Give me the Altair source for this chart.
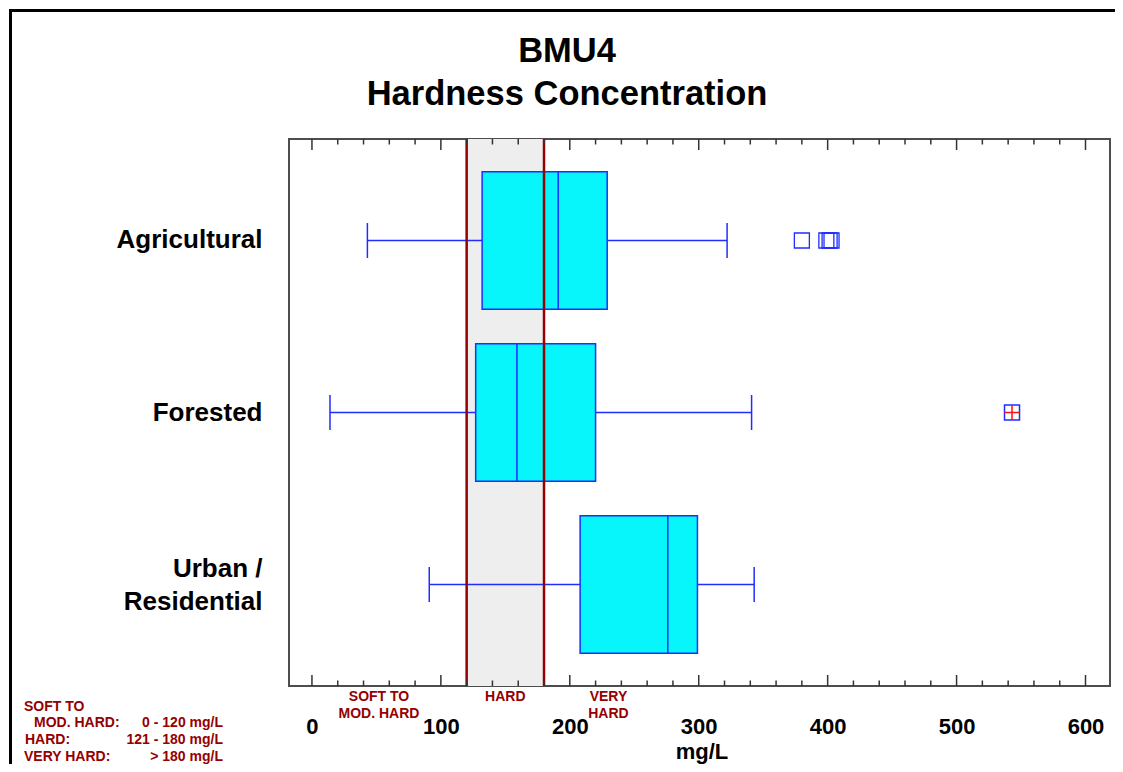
import altair as alt
import pandas as pd

# ---------------- data ----------------
categories = ["Agricultural", "Forested", "Urban / Residential"]
whisker_low = [43, 14, 91]
q1 = [132, 127, 208]
median = [191, 159, 276]
q3 = [229, 220, 299]
whisker_high = [322, 341, 343]

outlier_cat = ["Agricultural", "Agricultural", "Agricultural", "Agricultural"]
outlier_val = [380, 399, 401.5, 403]
far_outlier_cat = ["Forested"]
far_outlier_val = [543]

major_ticks = [0, 100, 200, 300, 400, 500, 600]
minor_ticks = [v for v in range(20, 620, 20) if v % 100 != 0]

hard_bounds = [120, 180]
zone_labels = ["SOFT TO\nMOD. HARD", "HARD", "VERY\nHARD"]
zone_centers = [52, 150, 230]

legend_left = ["SOFT TO", "MOD. HARD:", "HARD:", "VERY HARD:"]
legend_right = ["", "0 - 120 mg/L", "121 - 180 mg/L", "> 180 mg/L"]

title_lines = ["BMU4", "Hardness Concentration"]
x_title = "mg/L"

# ---------------- styling ----------------
FONT = "Liberation Sans"
W, H = 821, 547
BLUE = "#1f2dff"
CYAN = "#06f6fc"
DARKRED = "#950000"
XDOM = [-17.8, 619]

box_df = pd.DataFrame({"cat": categories, "low": whisker_low, "q1": q1,
                       "med": median, "q3": q3, "high": whisker_high})
out_df = pd.DataFrame({"cat": outlier_cat, "val": outlier_val})
far_df = pd.DataFrame({"cat": far_outlier_cat, "val": far_outlier_val})
major_df = pd.DataFrame({"v": major_ticks})
minor_df = pd.DataFrame({"v": minor_ticks})
bounds_df = pd.DataFrame({"lo": [hard_bounds[0]], "hi": [hard_bounds[1]]})
lines_df = pd.DataFrame({"v": hard_bounds})
zone_df = pd.DataFrame({"label": zone_labels, "pos": zone_centers})

xscale = alt.Scale(domain=XDOM, nice=False, zero=False)
yscale = alt.Scale(domain=categories, paddingInner=0.2, paddingOuter=0.19)

x_axis = alt.Axis(values=major_ticks, ticks=False, domain=False, grid=False,
                  labelFont=FONT, labelFontSize=22, labelFontWeight="bold",
                  labelColor="black", labelPadding=30, labelFlush=False)
y_axis = alt.Axis(ticks=False, domain=False, grid=False, labelFont=FONT,
                  labelFontSize=26, labelFontWeight="bold", labelColor="black",
                  labelPadding=27, labelLimit=400, labelLineHeight=33,
                  labelOffset={"condition": {"test": "datum.value == 'Urban / Residential'",
                                             "value": -16}, "value": 0},
                  labelExpr="datum.label == 'Urban / Residential' ? ['Urban /', 'Residential'] : datum.label")

def X(field):
    return alt.X(field, type="quantitative", scale=xscale, axis=x_axis, title=None)

Ycat = alt.Y("cat:N", scale=yscale, sort=categories, axis=y_axis, title=None)

# shaded HARD zone
zone_rect = alt.Chart(bounds_df).mark_rect(color="#eeeeee").encode(
    x=X("lo"), x2="hi", y=alt.value(0), y2=alt.value(H))

# whiskers
whisk = alt.Chart(box_df).mark_rule(color=BLUE, strokeWidth=1.3).encode(
    x=X("low"), x2="high", y=Ycat)
cap_lo = alt.Chart(box_df).mark_tick(color=BLUE, size=35, thickness=1.5, opacity=1).encode(
    x=X("low"), y=Ycat)
cap_hi = alt.Chart(box_df).mark_tick(color=BLUE, size=35, thickness=1.5, opacity=1).encode(
    x=X("high"), y=Ycat)

# boxes
boxes = alt.Chart(box_df).mark_bar(fill=CYAN, stroke=BLUE, strokeWidth=1.5, opacity=1).encode(
    x=X("q1"), x2="q3", y=Ycat)

med = alt.Chart(box_df).mark_tick(color=BLUE, size=137.6, thickness=1.5, opacity=1).encode(
    x=X("med"), y=Ycat)

# outliers
outs = alt.Chart(out_df).mark_point(shape="square", size=225, filled=False, color=BLUE,
                                    strokeWidth=1.3, opacity=1).encode(x=X("val"), y=Ycat)
far_sq = alt.Chart(far_df).mark_point(shape="square", size=225, filled=False, color=BLUE,
                                      strokeWidth=1.5, opacity=1).encode(x=X("val"), y=Ycat)
far_plus = alt.Chart(far_df).mark_point(shape="M-1,0H1M0,-1V1", size=225, filled=False,
                                        color="#ff1010", strokeWidth=1.5, opacity=1).encode(
    x=X("val"), y=Ycat)

# hardness boundary lines
red_lines = alt.Chart(lines_df).mark_rule(color=DARKRED, strokeWidth=2.5).encode(
    x=X("v"), y=alt.value(0), y2=alt.value(H))

# inward ticks on top and bottom
TICK_C = "#333333"
top_major = alt.Chart(major_df).mark_rule(color=TICK_C, strokeWidth=1.5).encode(
    x=X("v"), y=alt.value(0), y2=alt.value(11))
top_minor = alt.Chart(minor_df).mark_rule(color=TICK_C, strokeWidth=1.5).encode(
    x=X("v"), y=alt.value(0), y2=alt.value(5.5))
bot_major = alt.Chart(major_df).mark_rule(color=TICK_C, strokeWidth=1.5).encode(
    x=X("v"), y=alt.value(H - 11), y2=alt.value(H))
bot_minor = alt.Chart(minor_df).mark_rule(color=TICK_C, strokeWidth=1.5).encode(
    x=X("v"), y=alt.value(H - 5.5), y2=alt.value(H))

# zone labels under the axis
zone_txt = alt.Chart(zone_df).mark_text(font=FONT, fontSize=14, fontWeight="bold",
                                        color=DARKRED, baseline="top", align="center",
                                        lineBreak="\n", lineHeight=17.3).encode(
    x=X("pos"), y=alt.value(H + 4), text="label:N")

def txt(s, x, y, size, align="center", color="black", baseline="middle"):
    return alt.Chart(pd.DataFrame({"t": [s]})).mark_text(
        font=FONT, fontSize=size, fontWeight="bold", color=color, align=align,
        baseline=baseline).encode(x=alt.value(x), y=alt.value(y), text="t:N")

title1 = txt(title_lines[0], 278, -87, 34.5)
title2 = txt(title_lines[1], 278, -44, 34.5)
xtitle = txt(x_title, 413, 624.5, 22, baseline="bottom")

leg_y = [568, 584, 601, 618]
leg_x = [-265, -255, -264, -265]
legend_layers = []
for s, x, y in zip(legend_left, leg_x, leg_y):
    legend_layers.append(txt(s, x, y, 14, align="left", color=DARKRED))
for s, y in zip(legend_right, leg_y):
    if s:
        legend_layers.append(txt(s, -66, y, 14, align="right", color=DARKRED))

# outer frame (top and left edges)
frame_df = pd.DataFrame({"k": [0]})
frame_left = alt.Chart(frame_df).mark_rule(color="black", strokeWidth=3).encode(
    x=alt.value(-278.5), y=alt.value(-129), y2=alt.value(640))
frame_top = alt.Chart(frame_df).mark_rule(color="black", strokeWidth=3).encode(
    x=alt.value(-280), x2=alt.value(840), y=alt.value(-128.5))

chart = alt.layer(
    zone_rect, whisk, boxes, med, cap_lo, cap_hi, outs, far_sq, far_plus, red_lines,
    top_major, top_minor, bot_major, bot_minor, zone_txt, title1, title2, xtitle,
    *legend_layers, frame_left, frame_top
).properties(
    width=W, height=H,
    autosize=alt.AutoSizeParams(type="none"),
    padding={"left": 281, "top": 131, "right": 5, "bottom": 78},
    background="white",
).configure_view(stroke="#4d4d4d", strokeWidth=2)

chart.save("out.html", embed_options={"renderer": "svg", "actions": False})
